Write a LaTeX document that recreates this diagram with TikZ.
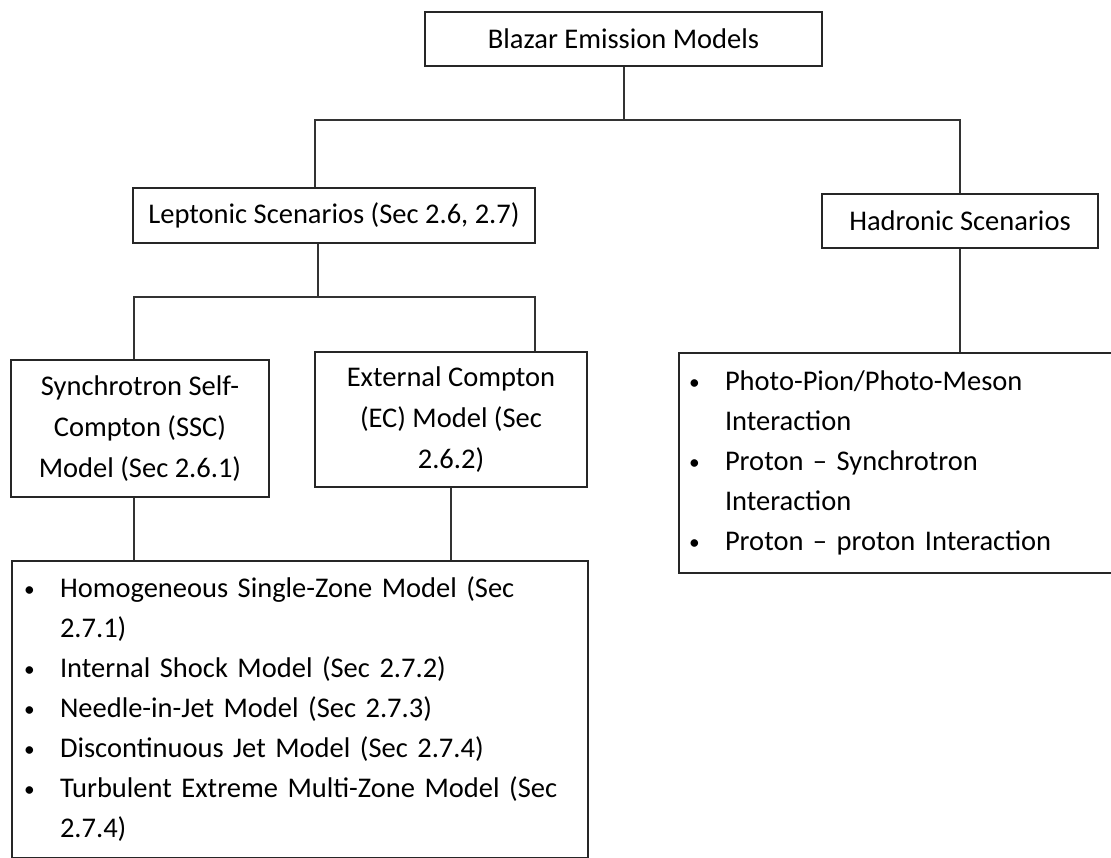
\documentclass[tikz,border=0pt]{standalone}
\usepackage{fontspec}
\setmainfont{Carlito}
\usepackage{tikz}
\usetikzlibrary{positioning,calc}

\newlength{\bulw}
\setlength{\bulw}{38pt}
\newcommand{\bul}{\makebox[\bulw][l]{\hspace*{2pt}\raisebox{1.5pt}{\scalebox{0.75}{\textbullet}}}}
\newcommand{\cont}{\hspace*{\bulw}}

\tikzset{
    box/.style={draw=black!85, line width=2pt, align=center, inner sep=4pt,
        font=\fontsize{28.5pt}{41pt}\selectfont},
    listbox/.style={draw=black!85, line width=2pt, align=left, anchor=north west,
        inner xsep=10pt, inner ysep=16pt, font=\fontsize{28.5pt}{40pt}\selectfont},
    link/.style={draw=black!80, line width=2pt}
}

\begin{document}
\begin{tikzpicture}[x=1pt, y=-1pt]
    \useasboundingbox (0,0) rectangle (1111,857);
    \clip (0,0) rectangle (1111,857);

    % Top
    \node[box, minimum width=397pt, minimum height=54pt] (blazar) at (623.5,39) {Blazar Emission Models};
    \coordinate (j1) at (623.5,120);

    % Leptonic / Hadronic
    \node[box, minimum width=402pt, minimum height=55pt] (lep) at (334,215.5) {Leptonic Scenarios (Sec 2.6, 2.7)};
    \node[box, minimum width=276pt, minimum height=54pt] (had) at (960,221) {Hadronic Scenarios};
    \coordinate (j2) at (318,297);

    % SSC / EC
    \node[box, minimum width=258pt, minimum height=137pt] (ssc) at (140,428.5) {Synchrotron Self-\\Compton (SSC)\\Model (Sec 2.6.1)};
    \node[box, minimum width=272pt, minimum height=135pt] (ec) at (451,419.5) {External Compton\\(EC) Model (Sec\\2.6.2)};

    % Lists
    \node[listbox, text width=556pt] (leplist) at (11,560) {%
        \bul Homogeneous Single-Zone Model (Sec\\
        \cont 2.7.1)\\
        \bul Internal Shock Model (Sec 2.7.2)\\
        \bul Needle-in-Jet Model (Sec 2.7.3)\\
        \bul Discontinuous Jet Model (Sec 2.7.4)\\
        \bul Turbulent Extreme Multi-Zone Model (Sec\\
        \cont 2.7.4)};
    \node[listbox, text width=440pt, inner xsep=8pt, inner ysep=18pt] (hadlist) at (678,352) {%
        \bul Photo-Pion/Photo-Meson\\
        \cont Interaction\\
        \bul Proton -- Synchrotron\\
        \cont Interaction\\
        \bul Proton -- proton Interaction};

    % connectors
    \draw[link] (blazar.south) -- (j1);
    \draw[link] ([xshift=-19pt]lep.north) |- (j1) -| (had.north);
    \draw[link] ([xshift=-16pt]lep.south) -- (j2);
    \draw[link] ([xshift=-6pt]ssc.north) |- (j2) -| ([xshift=84pt]ec.north);
    \draw[link] ([xshift=-6pt]ssc.south) -- ([xshift=-6pt]ssc.south |- leplist.north);
    \draw[link] (ec.south) -- (ec.south |- leplist.north);
    \draw[link] (had.south) -- (had.south |- hadlist.north);
\end{tikzpicture}
\end{document}
